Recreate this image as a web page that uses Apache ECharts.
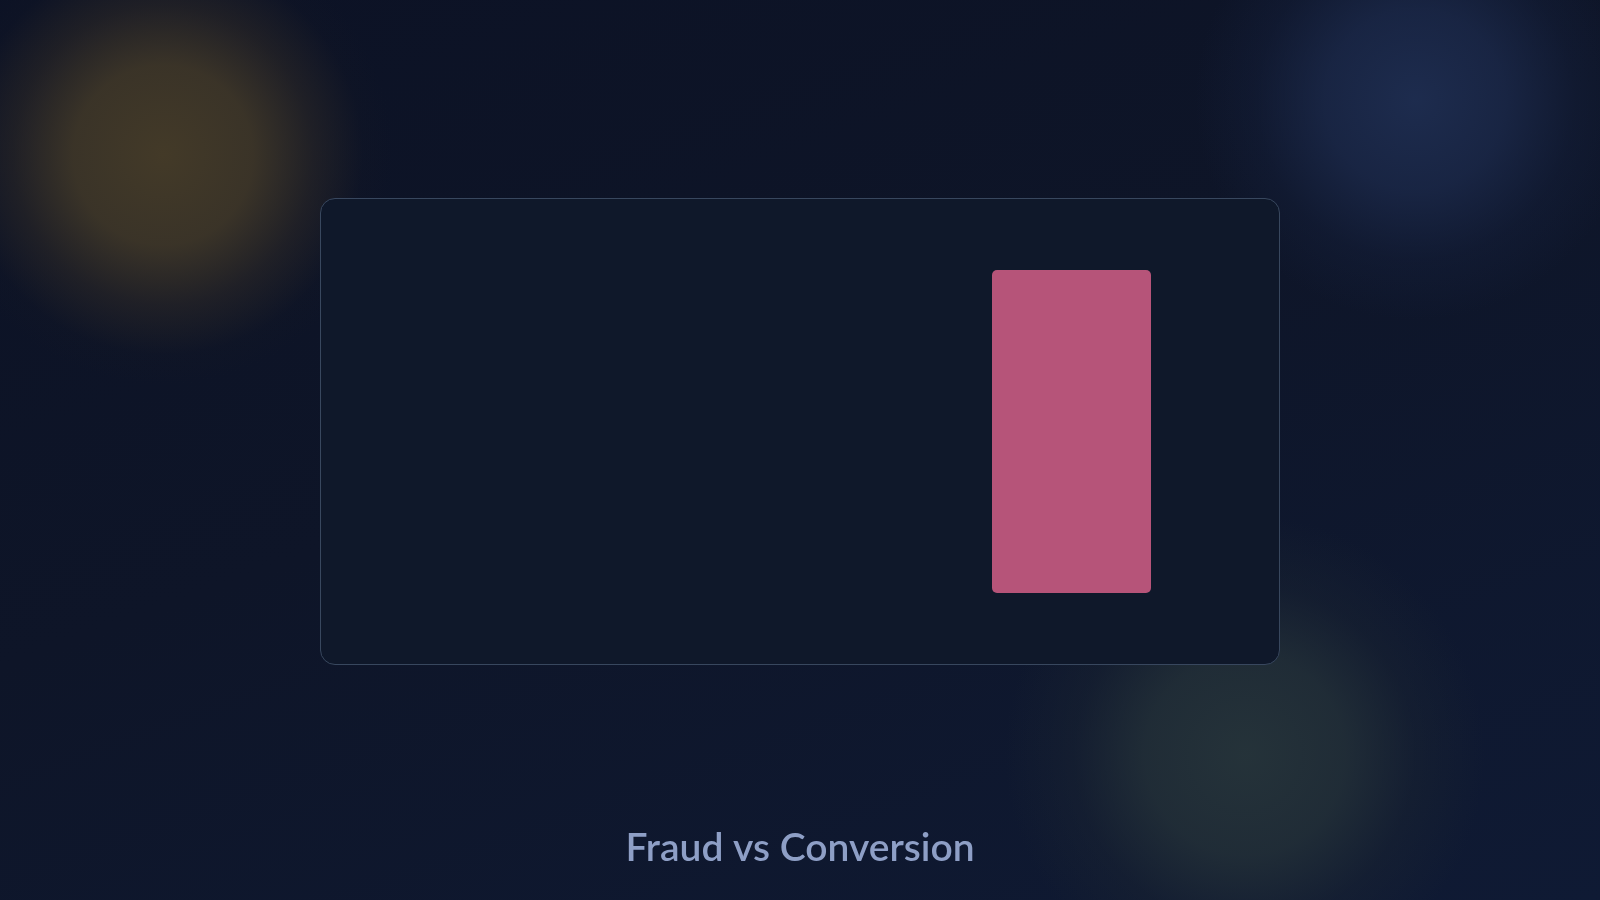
<!DOCTYPE html>
<html>
<head>
<meta charset="utf-8">
<script src="https://cdn.jsdelivr.net/npm/echarts@6/dist/echarts.min.js"></script>
<style>
  html, body { margin: 0; padding: 0; width: 1600px; height: 900px; overflow: hidden; }
  body {
    background:
      radial-gradient(circle at 163px 155px, rgba(70,60,40,0.95) 0px, rgba(66,57,40,0.85) 90px, rgba(50,44,38,0.5) 150px, rgba(24,26,36,0.15) 200px, rgba(20,22,32,0) 230px),
      radial-gradient(circle at 1415px 100px, rgba(30,45,80,0.95) 0px, rgba(28,42,76,0.75) 90px, rgba(22,34,64,0.35) 160px, rgba(14,22,44,0) 220px),
      radial-gradient(circle at 1245px 755px, rgba(38,52,58,0.95) 0px, rgba(36,49,56,0.8) 100px, rgba(28,38,50,0.4) 170px, rgba(16,26,46,0) 240px),
      linear-gradient(160deg, #0c1225 0%, #0e1528 45%, #0f1a34 100%);
  }
  #panel {
    position: absolute; left: 320px; top: 198px; width: 958px; height: 465px;
    background: #0f182a; border: 1.5px solid #38475e; border-radius: 15px;
  }
  #chart { position: absolute; left: 0; top: 0; width: 1600px; height: 900px; }
</style>
</head>
<body>
<div id="panel"></div>
<div id="chart"></div>
<script>
const titleText = 'Fraud vs Conversion';
const categories = ['Fraud', 'Conversion'];
const values = [0, 100];

const chart = echarts.init(document.getElementById('chart'), null, { renderer: 'canvas' });
chart.setOption({
  backgroundColor: 'transparent',
  animation: false,
  title: {
    text: titleText,
    left: 'center',
    top: 829,
    padding: 0,
    textStyle: { color: '#8e9fc6', fontSize: 39, fontWeight: 600, fontFamily: 'Lato' }
  },
  grid: { left: 321.5, right: 278.5, top: 270, bottom: 307 },
  xAxis: {
    type: 'category', data: categories,
    axisLine: { show: false }, axisTick: { show: false }, axisLabel: { show: false }, splitLine: { show: false }
  },
  yAxis: {
    type: 'value', min: 0, max: 100,
    axisLine: { show: false }, axisTick: { show: false }, axisLabel: { show: false }, splitLine: { show: false }
  },
  series: [{
    type: 'bar',
    data: values,
    barWidth: 159,
    itemStyle: { color: '#b65479', borderRadius: 5 }
  }]
});
</script>
</body>
</html>
